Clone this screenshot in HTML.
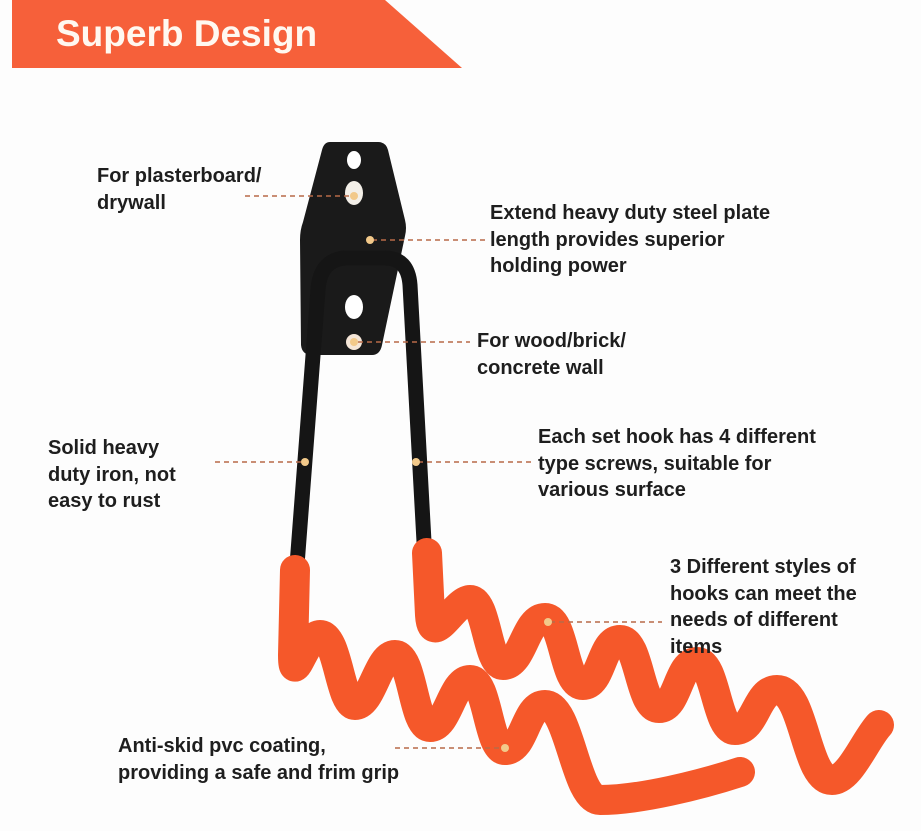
<!DOCTYPE html>
<html><head><style>
body{margin:0;width:921px;height:831px;background:#fdfdfd;position:relative;overflow:hidden;font-family:"Liberation Sans",sans-serif}
.t{position:absolute;font-weight:bold;font-size:20px;line-height:26.5px;color:#1e1e1e;white-space:nowrap}
svg{position:absolute;left:0;top:0}
</style></head><body>
<svg width="921" height="831">
<polygon points="12,0 385,0 462,68 12,68" fill="#f6603a"/>
<text x="56" y="46" font-family="Liberation Sans" font-weight="bold" font-size="37" fill="#fff8f0">Superb Design</text>
<path d="M330,142 L378,142 Q386,142 388,150 L405,220 Q407,228 405,236 L382,345 Q380,355 372,355 L312,355 Q302,355 301,345 L300,240 Q300,230 303,222 L322,150 Q324,142 330,142 Z" fill="#1a1a1a"/>
<ellipse cx="354" cy="160" rx="7" ry="9" fill="#fff"/>
<ellipse cx="354" cy="193" rx="9" ry="12" fill="#f3efe8"/>
<ellipse cx="354" cy="307" rx="9" ry="12" fill="#fff"/>
<circle cx="354" cy="342" r="8" fill="#f5e6d8"/>
<path d="M297,565 L318,290 Q320,260 345,258 L385,258 Q408,258 410,285 L425,560" fill="none" stroke="#151515" stroke-width="15" stroke-linejoin="round"/>
<g fill="none" stroke="#f5582a" stroke-width="30" stroke-linecap="round" stroke-linejoin="round">
<path d="M295,570 L293,655 C293,690 305,635 320,635 C338,635 340,705 355,705 C372,705 378,655 395,655 C413,655 413,727 430,727 C448,727 452,680 470,680 C488,680 488,750 505,750 C525,750 525,705 545,705 C570,705 575,800 600,800 C640,800 700,785 740,772"/>
<path d="M427,553 L430,615 C432,650 455,600 470,600 C487,600 487,665 503,665 C523,665 525,618 545,618 C565,618 563,685 583,685 C602,685 601,640 620,640 C640,640 639,708 659,708 C678,708 678,662 697,662 C716,662 716,730 735,730 C756,730 756,690 777,690 C805,690 805,780 832,780 C850,780 865,740 879,725"/>
</g>
<g fill="none" stroke="#b86a48" stroke-width="1.5" stroke-dasharray="5,4">
<line x1="245" y1="196" x2="350" y2="196"/>
<line x1="372" y1="240" x2="485" y2="240"/>
<line x1="358" y1="342" x2="470" y2="342"/>
<line x1="215" y1="462" x2="305" y2="462"/>
<line x1="418" y1="462" x2="532" y2="462"/>
<line x1="550" y1="622" x2="662" y2="622"/>
<line x1="395" y1="748" x2="503" y2="748"/>
</g>
<g fill="#f2c98a"><circle cx="354" cy="196" r="4"/><circle cx="370" cy="240" r="4"/><circle cx="354" cy="342" r="4"/><circle cx="305" cy="462" r="4"/><circle cx="416" cy="462" r="4"/><circle cx="548" cy="622" r="4"/><circle cx="505" cy="748" r="4"/></g>
</svg>
<div class="t" style="left:97px;top:163px">For plasterboard/<br>drywall</div>
<div class="t" style="left:490px;top:200px">Extend heavy duty steel plate<br>length provides superior<br>holding power</div>
<div class="t" style="left:477px;top:328px">For wood/brick/<br>concrete wall</div>
<div class="t" style="left:48px;top:435px">Solid heavy<br>duty iron, not<br>easy to rust</div>
<div class="t" style="left:538px;top:424px">Each set hook has 4 different<br>type screws, suitable for<br>various surface</div>
<div class="t" style="left:670px;top:554px">3 Different styles of<br>hooks can meet the<br>needs of different<br>items</div>
<div class="t" style="left:118px;top:733px">Anti-skid pvc coating,<br>providing a safe and frim grip</div>
</body></html>
